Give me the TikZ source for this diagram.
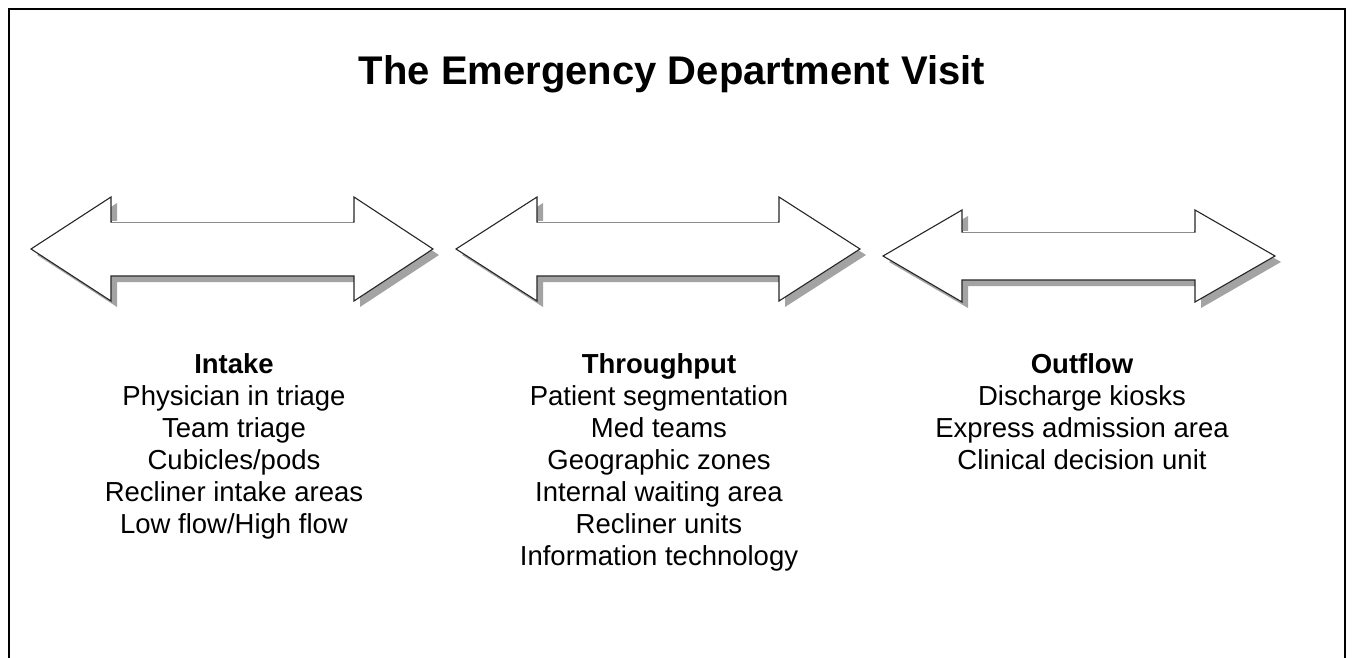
\documentclass[tikz,border=0pt]{standalone}
\usepackage{fontspec}
\setmainfont{Liberation Sans}
% Double-headed block arrow with a grey drop shadow.
% #1 left tip x, #2 left head back x, #3 right head back x, #4 right tip x,
% #5 centre line y, #6 half height of the heads, #7 half height of the shaft
\newcommand\visitarrowpath[7]{%
  (#1,#5) -- (#2,{#5-#6}) -- (#2,{#5-#7}) -- (#3,{#5-#7}) -- (#3,{#5-#6})
  -- (#4,#5) -- (#3,{#5+#6}) -- (#3,{#5+#7}) -- (#2,{#5+#7}) -- (#2,{#5+#6}) -- cycle}
\newcommand\visitarrow[7]{%
  \fill[arrowshadow, shift={(6,6)}] \visitarrowpath{#1}{#2}{#3}{#4}{#5}{#6}{#7};
  \draw[arrowline] \visitarrowpath{#1}{#2}{#3}{#4}{#5}{#6}{#7};
  % the upper edge of the shaft is printed faintly
  \draw[line width=1.4pt, white] ({#2+1},{#5-#7}) -- ({#3-1},{#5-#7});
  \draw[shafttop] ({#2+1},{#5-#7}) -- ({#3-1},{#5-#7});}
\begin{document}
\begin{tikzpicture}[x=1pt,y=-1pt,
  frame/.style={line width=2pt, black},
  arrowline/.style={line width=1.1pt, black!85, fill=white, line join=miter},
  shafttop/.style={line width=0.9pt, black!45},
  arrowshadow/.style={fill=black!36},
  heading/.style={inner sep=0pt, anchor=base, font=\fontsize{40}{48}\selectfont\bfseries},
  column/.style={align=center, anchor=north, inner sep=0pt,
                 font=\fontsize{27.5}{32}\selectfont}]
\useasboundingbox (0,0) rectangle (1354,658);

% outer frame (open at the bottom)
\draw[frame] (9,658) -- (9,9) -- (1345,9) -- (1345,658);

% title
\node[heading] (title) at (672,85) {The Emergency Department Visit};

% the three stages
\visitarrow{31}{111}{354}{433}{249}{52}{27}
\visitarrow{456}{537}{779}{860}{249}{52}{27}
\visitarrow{883}{962}{1195}{1275}{256}{46}{24}

% stage descriptions
\node[column] (intake) at (234,353) {\textbf{Intake}\\
  Physician in triage\\Team triage\\Cubicles/pods\\
  Recliner intake areas\\Low flow/High flow};
\node[column] (throughput) at (659,353) {\textbf{Throughput}\\
  Patient segmentation\\Med teams\\Geographic zones\\
  Internal waiting area\\Recliner units\\Information technology};
\node[column] (outflow) at (1082,353) {\textbf{Outflow}\\
  Discharge kiosks\\Express admission area\\Clinical decision unit};
\end{tikzpicture}
\end{document}
